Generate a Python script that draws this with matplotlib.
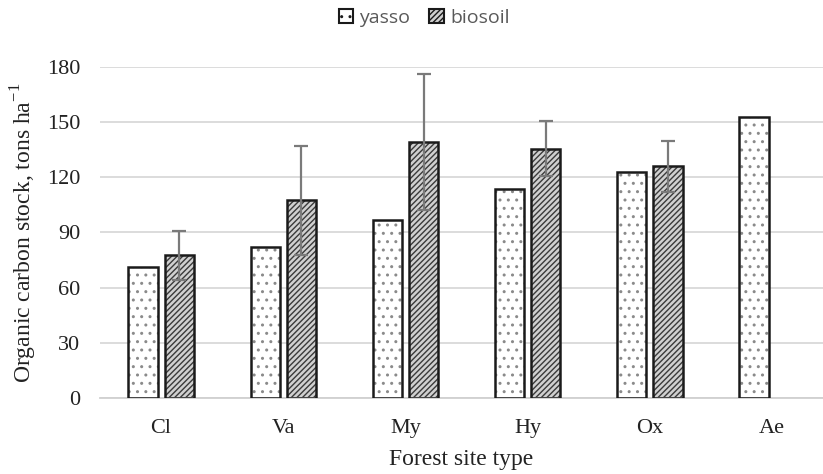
import matplotlib
matplotlib.use("Agg")
import matplotlib.pyplot as plt
import numpy as np
from matplotlib.patches import Patch

categories = ["Cl", "Va", "My", "Hy", "Ox", "Ae"]
yasso = [71, 82, 97, 113.5, 123, 153]
biosoil = [77.5, 107.5, 139, 135.5, 126, np.nan]
biosoil_err = [13.5, 29.5, 37, 15, 14, np.nan]
yticks = [0, 30, 60, 90, 120, 150, 180]

W, H = 823, 474
fig = plt.figure(figsize=(W / 100, H / 100), dpi=100)
left_px, right_px, bottom_px, top_px = 100, 823, 398, 67
ax = fig.add_axes([left_px / W, 1 - bottom_px / H, (right_px - left_px) / W, (bottom_px - top_px) / H])

x = np.arange(len(categories))
bw = 0.24
off = 0.148
plt.rcParams['hatch.linewidth'] = 1.0

# yasso: dotted fill
ax.bar(x - off, yasso, bw, color="white", edgecolor="#8a8a8a", hatch="..", linewidth=0, zorder=2)
ax.bar(x - off, yasso, bw, fill=False, edgecolor="#1a1a1a", linewidth=1.8, zorder=3)
# biosoil: diagonal hatch
bx = x + off
ax.bar(bx, biosoil, bw, color="#d0d0d0", edgecolor="#3a3a3a", hatch="//////", linewidth=0, zorder=2)
ax.bar(bx, biosoil, bw, fill=False, edgecolor="#1a1a1a", linewidth=1.8, zorder=3)
ax.errorbar(bx, biosoil, yerr=biosoil_err, fmt="none", ecolor="#7a7a7a", elinewidth=1.6,
            capsize=5, capthick=1.6, zorder=4)

ax.set_ylim(0, 180)
ax.set_xlim(-0.5, -0.5 + (right_px - left_px) / 122.2)
ax.set_yticks(yticks)
ax.set_xticks(x)
ax.set_xticklabels(categories)
ax.yaxis.grid(True, color="#d9d9d9", linewidth=1.3, zorder=0)
ax.set_axisbelow(True)
for s in ["top", "right", "left"]:
    ax.spines[s].set_visible(False)
ax.spines["bottom"].set_color("#d0d0d0")
ax.spines["bottom"].set_linewidth(1.3)
ax.tick_params(axis="both", length=0, labelsize=16, colors="#222222")
ax.tick_params(axis="y", pad=14)
ax.tick_params(axis="x", pad=15)
for lab in ax.get_xticklabels() + ax.get_yticklabels():
    lab.set_family("Liberation Serif")

ax.set_xlabel("Forest site type", family="Liberation Serif", fontsize=17, color="#222222", labelpad=8)
ax.set_ylabel("Organic carbon stock, tons ha$^{\\mathregular{-1}}$", family="Liberation Serif",
              fontsize=17, color="#222222", labelpad=6)

handles = [
    Patch(facecolor="white", edgecolor="#1a1a1a", hatch="..", linewidth=1.5),
    Patch(facecolor="#d0d0d0", edgecolor="#1a1a1a", hatch="//////", linewidth=1.5),
]
fig.legend(handles, ["yasso", "biosoil"], loc="center", bbox_to_anchor=(424 / W, 1 - 18 / H),
           ncol=2, frameon=False, prop={"family": "Open Sans", "size": 14},
           handlelength=0.75, handleheight=0.75, handletextpad=0.3, columnspacing=1.0,
           labelcolor="#595959")

fig.savefig("out.png", dpi=100)
